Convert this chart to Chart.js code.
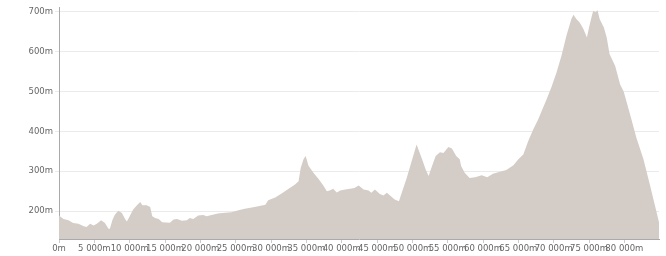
<!DOCTYPE html>
<html>
<head>
<meta charset="utf-8">
<script src="https://cdn.jsdelivr.net/npm/chart.js@4/dist/chart.umd.min.js"></script>
<style>
  html, body { margin: 0; padding: 0; background: #fff; }
  #wrap { width: 666px; height: 256px; }
</style>
</head>
<body>
<div id="wrap"><canvas id="profile"></canvas></div>
<script>
// distance along route (m) and elevation (m)
const distance = [0, 630, 1330, 2000, 2750, 3500, 3900, 4400, 4900, 5350, 5960, 6500, 7000, 7200, 7550, 7900,
  8400, 8900, 9350, 9600, 9800, 10500, 11100, 11500, 11800, 12400, 12900, 13200, 13600, 14100, 14600,
  15700, 16200, 16700, 17400, 18100, 18500, 19000, 19700, 20400, 20900, 21600, 22500, 23500, 24400,
  25400, 26300, 27300, 28200, 29200, 29600, 30600, 31500, 32500, 33400, 33900, 34200, 34600, 34900,
  35300, 36000, 36700, 37400, 37900, 38300, 38800, 39300, 39800, 40500, 41200, 41800, 42400, 43100,
  43800, 44200, 44700, 45400, 45900, 46400, 46800, 47500, 48100, 48500, 49200, 49900, 50600, 51300,
  51900, 52300, 52700, 53300, 53900, 54400, 55100, 55600, 56200, 56700, 56900, 57400, 58100, 58900,
  59800, 60600, 61400, 62400, 63300, 64300, 65000, 65700, 66400, 67100, 67800, 68300, 69000, 69700,
  70400, 71100, 71800, 72500, 72800, 73200, 73700, 74200, 74700, 75000, 75400, 75600, 75900, 76200,
  76500, 77100, 77500, 77900, 78700, 79400, 79900, 80800, 81700, 82700, 83600, 84300, 84900];
const elevation = [189, 180, 177, 170, 168, 162, 160, 168, 164, 168, 177, 170, 156, 156, 177, 191,
  201, 195, 180, 174, 180, 204, 216, 223, 215, 215, 210, 187, 183, 180, 172,
  171, 179, 180, 176, 177, 183, 180, 189, 190, 187, 190, 194, 196, 197,
  202, 206, 209, 212, 216, 227, 234, 244, 256, 267, 275, 308, 330, 338,
  314, 296, 281, 264, 250, 252, 256, 247, 252, 254, 256, 258, 264, 254,
  252, 246, 254, 243, 239, 246, 240, 229, 225, 246, 283, 325, 367, 334,
  304, 288, 309, 338, 348, 346, 361, 357, 338, 330, 313, 296, 283, 285,
  290, 285, 294, 299, 303, 315, 330, 342, 376, 405, 430, 451, 481, 512,
  548, 590, 640, 682, 693, 682, 673, 657, 636, 661, 690, 703, 699, 704,
  682, 661, 636, 594, 564, 518, 500, 443, 384, 330, 267, 216, 172];
const xTicks = [0, 5000, 10000, 15000, 20000, 25000, 30000, 35000, 40000, 45000, 50000, 55000, 60000, 65000, 70000, 75000, 80000];
const yTicks = [200, 300, 400, 500, 600, 700];

const fmt = v => String(v).replace(/\B(?=(\d{3})+(?!\d))/g, ' ') + 'm';
const tickFont = { family: 'DejaVu Sans', size: 8.5 };

new Chart(document.getElementById('profile'), {
  type: 'line',
  data: {
    datasets: [{
      data: distance.map((d, i) => ({ x: d, y: elevation[i] })),
      backgroundColor: 'rgb(212,204,198)',
      borderWidth: 0,
      pointRadius: 0,
      fill: 'start',
      tension: 0
    }]
  },
  options: {
    responsive: true,
    maintainAspectRatio: false,
    animation: false,
    layout: { padding: { top: 7, right: 7, left: 0, bottom: 0 } },
    plugins: { legend: { display: false }, tooltip: { enabled: false } },
    scales: {
      x: {
        type: 'linear',
        min: 0,
        max: 84900,
        afterBuildTicks: s => { s.ticks = xTicks.map(v => ({ value: v })); },
        afterFit: s => { s.height = 17; },
        border: { color: '#aaa' },
        grid: { drawOnChartArea: false, tickLength: 4, color: '#ccc' },
        ticks: { autoSkip: false, maxRotation: 0, padding: 1, color: '#666', font: tickFont, callback: fmt }
      },
      y: {
        min: 130,
        max: 712,
        afterBuildTicks: s => { s.ticks = yTicks.map(v => ({ value: v })); },
        afterFit: s => { s.width = 59; },
        border: { color: '#aaa' },
        grid: { tickLength: 4, color: '#ebebeb' },
        ticks: { padding: 2, color: '#666', font: tickFont, callback: fmt }
      }
    }
  }
});
</script>
</body>
</html>
